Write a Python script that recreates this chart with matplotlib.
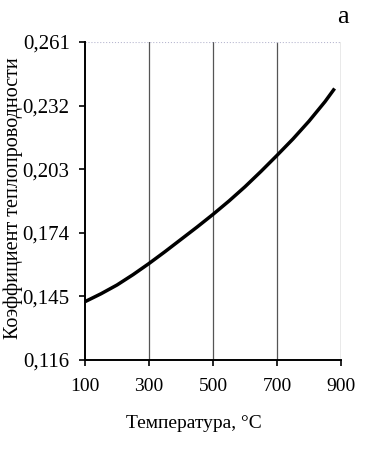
import matplotlib
matplotlib.use("Agg")
import matplotlib.pyplot as plt

plt.rcParams['font.family'] = ['Liberation Serif', 'DejaVu Serif']

temperature = [100, 150, 200, 250, 300, 350, 400, 450, 500,
               550, 600, 650, 700, 750, 800, 850, 880]
conductivity = [0.1426, 0.1462, 0.1502, 0.1549, 0.1600, 0.1654, 0.1710, 0.1766, 0.1824,
                0.1885, 0.1950, 0.2020, 0.2093, 0.2168, 0.2249, 0.2338, 0.2398]

x_ticks = [100, 300, 500, 700, 900]
y_ticks = [0.116, 0.145, 0.174, 0.203, 0.232, 0.261]

fig = plt.figure(figsize=(3.88, 4.66), dpi=100)
ax = fig.add_axes([85 / 388, 1 - 360 / 466, 256 / 388, 318 / 466])

ax.plot(temperature, conductivity, color='black', lw=2.5,
        solid_capstyle='butt', solid_joinstyle='round')

ax.set_xlim(100, 900)
ax.set_ylim(0.116, 0.261)
ax.set_xticks(x_ticks)
ax.set_yticks(y_ticks)
ax.set_yticklabels([f"{v:.3f}".replace('.', ',') for v in y_ticks])

for x in x_ticks[1:]:
    ax.axvline(x, color='#555555', lw=0.9, zorder=0)
ax.axhline(0.261, color='#b8b8d0', lw=0.8, ls=':', zorder=0)

ax.spines['top'].set_visible(False)
ax.spines['right'].set_visible(False)
ax.spines['left'].set_linewidth(1.4)
ax.spines['bottom'].set_linewidth(1.4)
ax.tick_params(direction='out', length=4, width=1.2, colors='black')
ax.tick_params(axis='y', labelsize=15, pad=7)
ax.tick_params(axis='x', labelsize=14, pad=9)

fig.text(194 / 388, 1 - 423 / 466, "Температура, °С", ha='center', va='center', fontsize=14)
fig.text(13 / 388, 1 - 198 / 466, "Коэффициент теплопроводности", rotation=90,
         ha='center', va='center', fontsize=14.5)
fig.text(343 / 388, 1 - 17 / 466, "а", ha='center', va='center', fontsize=19)

fig.savefig("out.png", dpi=100)
